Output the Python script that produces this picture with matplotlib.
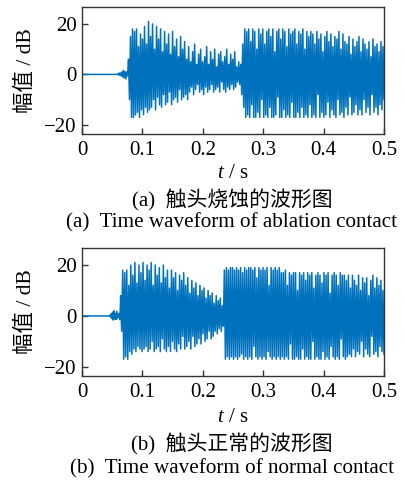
import numpy as np
import matplotlib
matplotlib.use("Agg")
import matplotlib.pyplot as plt

plt.rcParams['font.family'] = ['Liberation Serif', 'Noto Sans CJK SC']
plt.rcParams['mathtext.fontset'] = 'custom'
plt.rcParams['mathtext.it'] = 'Liberation Serif:italic'
plt.rcParams['mathtext.rm'] = 'Liberation Serif'

LINE_COLOR = '#0072BD'

# ---------------- data: panel (a) ablation contact ----------------
a_quiet_t = [0.0, 0.058]
a_quiet_v = [0.0, 0.0]
a_wiggle = [0.3, -0.3, 0.6, -0.5, 0.9, -1.0, 1.6, -1.4, 1.2, -1.8, 1.0, -0.6]
a_onset = 0.077
a_pos = [6, 15, 18, 17, 18, 11, 16, 14, 19, 12,
         21, 15, 20, 10, 19, 14, 18, 9, 17, 12,
         16, 8, 17, 11, 14, 7, 15, 10, 13, 6,
         11, 5, 9, 12, 4, 8, 10, 5, 7, 11,
         4, 9, 6, 10, 3, 8, 9, 5, 7, 10,
         4, 8, 6, 9, 3, 5, 4, 12, 18, 17,
         18, 13, 18, 17, 10, 18, 16, 18, 12, 17,
         18, 15, 18, 9, 17, 18, 14, 18, 17, 11,
         18, 16, 17, 18, 12, 17, 16, 18, 10, 17,
         15, 17, 16, 12, 17, 14, 16, 9, 15, 17,
         13, 16, 11, 15, 14, 17, 10, 16, 13, 12,
         15, 8, 14, 11, 13, 15, 9, 14, 12, 10,
         13, 7, 14, 11, 12, 9, 13, 11]
a_neg = [-10, -17, -17, -16, -15, -17, -14, -16, -13, -15,
         -14, -13, -10, -14, -9, -12, -13, -8, -12, -11,
         -7, -12, -10, -9, -11, -6, -10, -9, -8, -10,
         -7, -5, -8, -6, -4, -7, -6, -8, -5, -7,
         -6, -4, -7, -6, -5, -7, -3, -6, -7, -5,
         -6, -4, -6, -5, -3, -4, -8, -13, -17, -16,
         -17, -12, -17, -17, -15, -17, -10, -17, -16, -17,
         -13, -17, -17, -16, -9, -17, -17, -14, -17, -16,
         -17, -11, -17, -17, -15, -17, -13, -17, -16, -17,
         -12, -17, -16, -17, -8, -17, -15, -17, -16, -11,
         -17, -14, -16, -17, -10, -16, -15, -17, -13, -16,
         -9, -16, -15, -12, -16, -14, -16, -10, -15, -13,
         -16, -8, -15, -13, -16, -12, -14, -10]

# ---------------- data: panel (b) normal contact ----------------
b_quiet_t = [0.0, 0.045]
b_quiet_v = [0.0, 0.0]
b_wiggle = [0.3, -0.4, 0.8, -1.0, 1.5, -1.6, 2.0, -1.2, 0.8, -1.4, 1.8, -1.0, 0.6, -0.5, 1.0, -1.5]
b_onset = 0.064
b_pos = [8,
         18, 17, 18, 12, 20, 16, 21, 13, 20, 17,
         21, 14, 20, 18, 21, 12, 20, 16, 19, 13, 20, 15,
         18, 11, 18, 15, 17, 10, 16, 14, 17,
         12, 15, 9, 14, 11, 13, 8, 12, 10, 11, 7, 10, 8, 9, 5, 8, 6, 7, 4,
         18, 19, 18, 19, 19, 18, 19, 18, 19, 17, 19, 18, 19, 19, 18, 19, 15, 19, 18, 19,
         18, 19, 12, 19, 18, 19, 18, 19, 17,
         17, 18, 12, 17, 16, 17, 17, 10, 17, 16, 17, 14, 17, 16, 17, 11, 16, 17, 16, 13,
         17, 16, 17, 9, 16, 17, 16, 12, 17, 16, 16, 14, 16, 11, 16,
         14, 12, 16, 10, 15, 13, 15, 8, 14, 16, 11, 15, 12, 14, 10]
b_neg = [-6,
         -17, -16, -17, -14, -15, -13, -14, -12, -13, -14,
         -13, -12, -14, -13, -10, -14, -13, -12, -14, -9, -13, -14,
         -12, -14, -10, -13, -14, -11, -13, -8, -13,
         -12, -10, -13, -8, -12, -11, -9, -11, -7, -10, -9, -6, -9, -8, -6, -7, -5, -6, -4,
         -17, -16, -17, -16, -17, -16, -17, -16, -15, -17, -16, -17, -16, -17, -12, -16, -17, -16, -17, -16,
         -17, -14, -16, -17, -16, -17, -16, -17, -16,
         -17, -16, -17, -11, -17, -17, -16, -17, -17, -13, -17, -16, -17, -17, -10, -17, -16, -17, -17, -14,
         -17, -16, -17, -12, -16, -17, -16, -17, -9, -16, -17, -16, -15, -16, -13,
         -16, -14, -15, -10, -16, -13, -15, -16, -8, -15, -14, -16, -12, -14, -15]

x_ticks = [0, 0.1, 0.2, 0.3, 0.4, 0.5]
x_ticklabels = ['0', '0.1', '0.2', '0.3', '0.4', '0.5']
y_ticks = [-20, 0, 20]
y_ticklabels = ['\u221220', '0', '20']
x_label = r'$t$ / s'
y_label = '幅值 / dB'
captions_a = ['(a)  触头烧蚀的波形图', '(a)  Time waveform of ablation contact']
captions_b = ['(b)  触头正常的波形图', '(b)  Time waveform of normal contact']


def build_series(quiet_t, quiet_v, wiggle, onset, pos, neg):
    n = min(len(pos), len(neg))
    active = np.empty(2 * n)
    active[0::2] = pos[:n]
    active[1::2] = neg[:n]
    t_w = np.linspace(quiet_t[-1], onset, len(wiggle) + 2)[1:-1]
    t_a = np.linspace(onset, 0.5, 2 * n)
    t = np.concatenate([quiet_t, t_w, t_a])
    v = np.concatenate([quiet_v, wiggle, active])
    return t, v


W, H = 404, 482
fig = plt.figure(figsize=(W / 100, H / 100), dpi=100)


def px_axes(left, top, right, bottom):
    return fig.add_axes([left / W, 1 - bottom / H, (right - left) / W, (bottom - top) / H])


def style(ax):
    ax.set_xlim(0, 0.5)
    ax.set_ylim(-23.6, 26.7)
    ax.set_xticks(x_ticks)
    ax.set_xticklabels(x_ticklabels)
    ax.set_yticks(y_ticks)
    ax.set_yticklabels(y_ticklabels)
    ax.tick_params(direction='in', length=4, width=1, labelsize=15, pad=5,
                   top=False, right=False, color='#333333')
    ax.tick_params(axis='y', pad=4)
    for s in ax.spines.values():
        s.set_linewidth(1.0)
        s.set_color('#333333')


panels = [
    (build_series(a_quiet_t, a_quiet_v, a_wiggle, a_onset, a_pos, a_neg), (82, 7, 384, 134), captions_a,
     (174, 200, 223)),
    (build_series(b_quiet_t, b_quiet_v, b_wiggle, b_onset, b_pos, b_neg), (82, 248, 384, 376), captions_b,
     (417, 444, 469)),
]

for (t, v), box, caps, ys in panels:
    ax = px_axes(*box)
    ax.plot(t, v, color=LINE_COLOR, linewidth=1.1)
    style(ax)
    cy = (box[1] + box[3]) / 2
    fig.text(26 / W, 1 - cy / H, y_label, rotation=90, ha='center', va='center', fontsize=15.5)
    xc = (box[0] + box[2]) / 2 / W
    fig.text(xc, 1 - ys[0] / H, x_label, ha='center', va='center', fontsize=15)
    fig.text(232 / W, 1 - ys[1] / H, caps[0], ha='center', va='center', fontsize=15)
    fig.text(232 / W, 1 - ys[2] / H, caps[1], ha='center', va='center', fontsize=15.2)

fig.savefig('out.png', dpi=100)
